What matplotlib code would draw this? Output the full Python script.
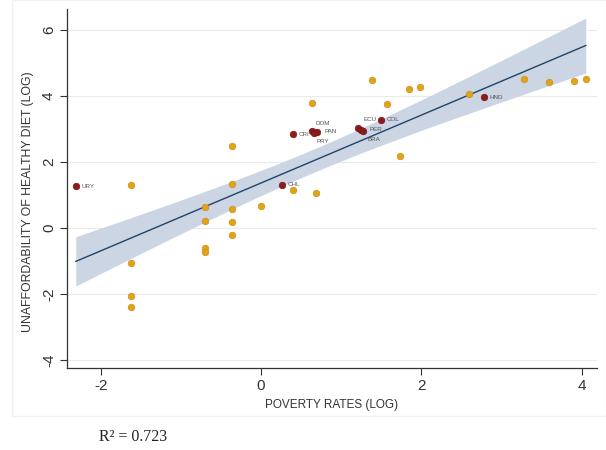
import numpy as np
import matplotlib
matplotlib.use("Agg")
import matplotlib.pyplot as plt
from matplotlib.patches import Rectangle

# ---- data ----
orange_x = [-1.62, -1.62, -1.62, -1.62, -0.70, -0.70, -0.70, -0.70,
            -0.36, -0.36, -0.36, -0.36, -0.36, 0.00, 0.40, 0.69,
            0.64, 1.38, 1.57, 1.73, 1.85, 1.98, 2.59, 3.28, 3.59, 3.90, 4.05]
orange_y = [1.30, -1.06, -2.06, -2.39, 0.64, 0.21, -0.61, -0.73,
            2.49, 1.33, 0.58, 0.18, -0.21, 0.67, 1.15, 1.06,
            3.79, 4.48, 3.76, 2.18, 4.22, 4.28, 4.07, 4.51, 4.42, 4.45, 4.52]

red_labels = ["URY", "CHL", "CRI", "DOM", "PAN", "PRY", "ECU", "PER", "BRA", "COL", "HND"]
red_x = [-2.31, 0.26, 0.40, 0.64, 0.70, 0.66, 1.21, 1.25, 1.27, 1.50, 2.78]
red_y = [1.27, 1.32, 2.84, 2.93, 2.92, 2.88, 3.03, 2.98, 2.95, 3.29, 3.96]
# label offsets in points (dx, dy)
red_label_off = [(4, 0), (4, 0), (4, 0), (2, 6), (5, 0), (2, -6),
                 (4, 6), (6, 0), (3, -6), (4, 0), (4, 0)]

r2_text = "R\u00b2 = 0.723"
xticks = [-2, 0, 2, 4]
yticks = [-4, -2, 0, 2, 4, 6]

# ---- figure ----
W, H = 606, 450
fig = plt.figure(figsize=(W / 100, H / 100), dpi=100)
plt.rcParams['font.family'] = ['Liberation Sans', 'DejaVu Sans']

# faint outer graph-region frame
fig.patches.append(Rectangle((12 / W, 1 - 416 / H), (W - 12) / W, 416 / H,
                             transform=fig.transFigure, fill=False,
                             edgecolor="#f0f0f0", lw=1.0))

ax = fig.add_axes([67 / W, 1 - 368 / H, (597 - 67) / W, (368 - 9) / H])
ax.set_xlim(-2.42, 4.19)
ax.set_ylim(-4.24, 6.64)

# fit + CI from all points
all_x = np.array(orange_x + red_x)
all_y = np.array(orange_y + red_y)
n = len(all_x)
b1, b0 = np.polyfit(all_x, all_y, 1)
resid = all_y - (b0 + b1 * all_x)
s = np.sqrt(np.sum(resid ** 2) / (n - 2))
xm = all_x.mean()
sxx = np.sum((all_x - xm) ** 2)
xs = np.linspace(all_x.min(), all_x.max(), 200)
yhat = b0 + b1 * xs
se = s * np.sqrt(1 / n + (xs - xm) ** 2 / sxx)
t = 2.028
ax.fill_between(xs, yhat - t * se, yhat + t * se, color="#cbd5e4", lw=0, zorder=1)
ax.plot(xs, yhat, color="#1f4468", lw=1.0, zorder=2)

# gridlines
for yt in yticks:
    ax.axhline(yt, color="#eaeaea", lw=0.8, zorder=0)

ax.scatter(orange_x, orange_y, s=22, color="#e0a31c", edgecolor="#d08f10",
           lw=0.5, zorder=3)
ax.scatter(red_x, red_y, s=22, color="#8e1b1b", edgecolor="#7a1414",
           lw=0.5, zorder=4)
for lab, x, y, (dx, dy) in zip(red_labels, red_x, red_y, red_label_off):
    ax.annotate(lab, (x, y), xytext=(dx, dy), textcoords="offset points",
                fontsize=4.5, color="#555555", va="center", ha="left", zorder=5)

ax.set_xticks(xticks)
ax.set_yticks(yticks)
ax.set_xticklabels([str(v) for v in xticks], fontsize=11, color="#333333")
ax.set_yticklabels([str(v) for v in yticks], fontsize=11, color="#333333",
                   rotation=90, va="center")
ax.tick_params(axis="both", length=5, width=0.8, color="#333333", pad=3)
for sp in ["top", "right"]:
    ax.spines[sp].set_visible(False)
for sp in ["left", "bottom"]:
    ax.spines[sp].set_color("#333333")
    ax.spines[sp].set_linewidth(0.9)

ax.set_xlabel("POVERTY RATES (LOG)", fontsize=8.5, color="#333333", labelpad=4)
ax.set_ylabel("UNAFFORDABILITY OF HEALTHY DIET (LOG)", fontsize=8.8, color="#333333")
ax.yaxis.set_label_coords((34 - 67) / (597 - 67), (368 - 202) / (368 - 9))

fig.text(99 / W, 1 - 437 / H, r2_text, fontsize=11.5, family="Liberation Serif",
         color="#222222", va="center", ha="left")

fig.savefig("out.png", dpi=100, facecolor="white")
